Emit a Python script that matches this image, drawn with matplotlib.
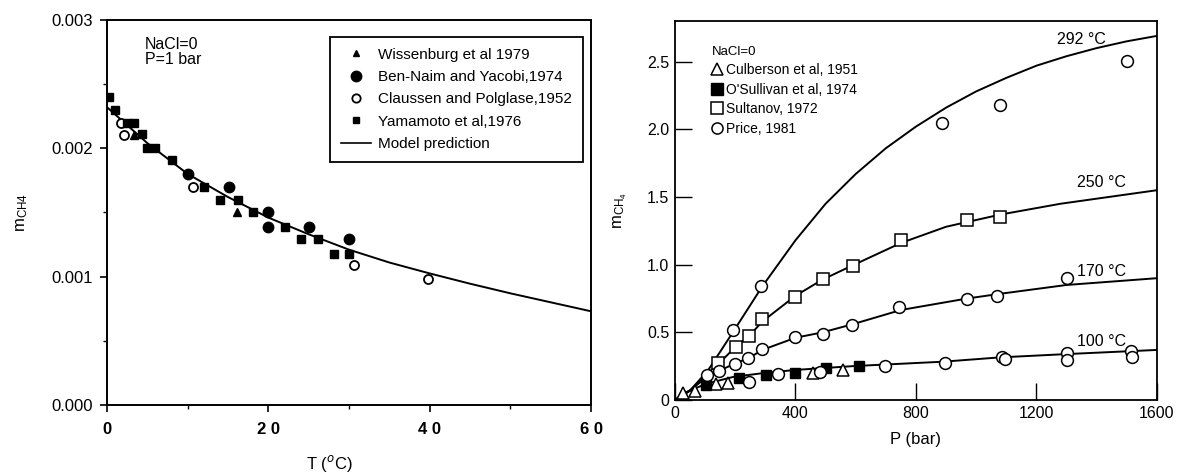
import matplotlib
matplotlib.use("Agg")
import matplotlib.pyplot as plt
from matplotlib.lines import Line2D
from matplotlib.ticker import FormatStrFormatter, MultipleLocator

plt.rcParams['font.family'] = ['Liberation Sans', 'DejaVu Sans']

# ---- left panel data: methane solubility at P = 1 bar ----
wiss_t = [3.3, 16.1]
wiss_m = [0.00210, 0.00150]
bennaim_t = [10.0, 15.1, 20.0, 19.9, 25.0, 30.0]
bennaim_m = [0.00180, 0.00170, 0.00150, 0.00139, 0.00139, 0.00129]
claussen_t = [1.7, 2.1, 10.7, 30.6, 39.8]
claussen_m = [0.00220, 0.00210, 0.00170, 0.00109, 0.00098]
yama_t = [0.2, 1.0, 2.5, 3.3, 4.3, 5.0, 6.0, 8.0, 12.0, 14.0, 16.2, 18.1, 22.1, 24.1, 26.1, 28.1, 30.0]
yama_m = [0.00240, 0.00230, 0.00220, 0.00220, 0.00211, 0.00200, 0.00200, 0.00191, 0.00170,
          0.00160, 0.00160, 0.00150, 0.00139, 0.00129, 0.00129, 0.00118, 0.00118]
model_t = [0, 5, 10, 15, 20, 25, 30, 35, 40, 45, 50, 55, 60]
model_m = [0.00232, 0.00204, 0.00180, 0.00162, 0.00146, 0.00133, 0.00121, 0.00111,
           0.001025, 0.000945, 0.00087, 0.00080, 0.00073]
left_xticks = [0, 20, 40, 60]
left_xlabels = ["0", "2 0", "4 0", "6 0"]
left_yticks = [0.000, 0.001, 0.002, 0.003]

# ---- right panel data: methane solubility vs pressure ----
p292 = [0, 50, 110, 192, 290, 400, 500, 600, 700, 800, 900, 1000, 1100, 1200, 1300, 1400, 1500, 1600]
m292 = [0, 0.07, 0.22, 0.50, 0.84, 1.18, 1.45, 1.67, 1.86, 2.02, 2.16, 2.28, 2.38, 2.47, 2.54, 2.60,
        2.65, 2.69]
p250 = [0, 50, 110, 150, 200, 245, 290, 400, 490, 595, 750, 900, 1080, 1280, 1600]
m250 = [0, 0.07, 0.20, 0.28, 0.39, 0.47, 0.58, 0.77, 0.89, 1.00, 1.16, 1.28, 1.37, 1.45, 1.55]
p170 = [0, 50, 105, 150, 200, 245, 290, 400, 490, 590, 750, 970, 1080, 1300, 1600]
m170 = [0, 0.07, 0.17, 0.22, 0.27, 0.31, 0.37, 0.46, 0.50, 0.56, 0.665, 0.75, 0.785, 0.85, 0.90]
p100 = [0, 28, 104, 192, 286, 398, 595, 889, 1079, 1306, 1600]
m100 = [0, 0.05, 0.12, 0.17, 0.197, 0.222, 0.251, 0.283, 0.315, 0.34, 0.37]

culb_p = [25, 66, 136, 177, 457, 557]
culb_m = [0.049, 0.069, 0.118, 0.128, 0.197, 0.222]
osul_p = [103, 213, 302, 398, 503, 612]
osul_m = [0.111, 0.160, 0.185, 0.200, 0.234, 0.251]
sult_p = [144, 202, 247, 288, 398, 492, 592, 749, 969, 1079]
sult_m = [0.276, 0.394, 0.473, 0.596, 0.758, 0.891, 0.990, 1.180, 1.330, 1.355]
price_p = [192, 286, 886, 1079, 1499,
           105, 147, 199, 243, 288, 398, 490, 587, 745, 969, 1070, 1300,
           247, 343, 481, 697, 896, 1085, 1097, 1300, 1300, 1514, 1518]
price_m = [0.517, 0.842, 2.05, 2.18, 2.505,
           0.185, 0.216, 0.266, 0.308, 0.374, 0.468, 0.487, 0.554, 0.685, 0.744, 0.768, 0.899,
           0.130, 0.192, 0.209, 0.251, 0.271, 0.320, 0.300, 0.345, 0.296, 0.365, 0.320]
curve_labels = ["292 °C", "250 °C", "170 °C", "100 °C"]
right_xticks = [0, 400, 800, 1200, 1600]
right_yticks = [0, 0.5, 1.0, 1.5, 2.0, 2.5]
right_ylabels = ["0", "0.5", "1.0", "1.5", "2.0", "2.5"]

fig = plt.figure(figsize=(11.79, 4.72), dpi=100)
ax1 = fig.add_axes([0.0908, 0.142, 0.4105, 0.8157])
ax2 = fig.add_axes([0.5725, 0.1525, 0.4088, 0.803])

# Left panel
ax1.plot(model_t, model_m, color='black', lw=1.4, label='Model prediction', zorder=2)
ax1.plot(wiss_t, wiss_m, '^', color='black', ms=5.5, ls='none', zorder=3)
ax1.plot(bennaim_t, bennaim_m, 'o', color='black', ms=7.5, ls='none', zorder=3)
ax1.plot(claussen_t, claussen_m, 'o', mfc='white', mec='black', mew=1.3, ms=6.5, ls='none', zorder=3)
ax1.plot(yama_t, yama_m, 's', color='black', ms=5.5, ls='none', zorder=3)

ax1.set_xlim(0, 60)
ax1.set_ylim(0, 0.003)
ax1.set_xticks(left_xticks)
ax1.set_xticklabels(left_xlabels, fontweight='bold', fontsize=12)
ax1.set_yticks(left_yticks)
ax1.yaxis.set_major_formatter(FormatStrFormatter('%.3f'))
ax1.xaxis.set_minor_locator(MultipleLocator(10))
ax1.yaxis.set_minor_locator(MultipleLocator(0.0005))
ax1.tick_params(which='major', direction='out', length=5, width=1.2, labelsize=12)
ax1.tick_params(axis='x', which='major', pad=7)
ax1.tick_params(axis='y', which='major', pad=5)
ax1.tick_params(which='minor', direction='out', length=3, width=1)
for s in ax1.spines.values():
    s.set_linewidth(1.4)

ax1.set_ylabel(r'$\mathregular{m_{CH4}}$', fontsize=12)
ax1.yaxis.set_label_coords(-0.16, 0.5)
ax1.set_xlabel(r'T ($^{o}$C)', fontsize=12)
ax1.xaxis.set_label_coords(0.46, -0.125)

ax1.text(0.0785, 0.956, 'NaCl=0\nP=1 bar', transform=ax1.transAxes, va='top', ha='left',
         fontsize=11.5, linespacing=1.0)

left_handles = [
    Line2D([], [], marker='^', color='black', ls='none', ms=5),
    Line2D([], [], marker='o', color='black', ls='none', ms=7.5),
    Line2D([], [], marker='o', mfc='white', mec='black', mew=1.3, ls='none', ms=6),
    Line2D([], [], marker='s', color='black', ls='none', ms=4.5),
    Line2D([], [], color='black', lw=1.2),
]
left_names = ['Wissenburg et al 1979', 'Ben-Naim and Yacobi,1974', 'Claussen and Polglase,1952',
              'Yamamoto et al,1976', 'Model prediction']
leg1 = ax1.legend(left_handles, left_names, loc='upper right', bbox_to_anchor=(0.983, 0.956),
                  fontsize=11, fancybox=False, edgecolor='black', framealpha=1,
                  handlelength=2.0, handletextpad=0.45, labelspacing=0.55, borderpad=0.7,
                  borderaxespad=0)
leg1.get_frame().set_linewidth(1.3)

# Right panel
for p, m in [(p292, m292), (p250, m250), (p170, m170), (p100, m100)]:
    ax2.plot(p, m, color='black', lw=1.4, zorder=2)
ax2.plot(culb_p, culb_m, '^', mfc='white', mec='black', mew=1.1, ms=8, ls='none', zorder=3)
ax2.plot(osul_p, osul_m, 's', color='black', ms=7.5, ls='none', zorder=3)
ax2.plot(sult_p, sult_m, 's', mfc='white', mec='black', mew=1.1, ms=8, ls='none', zorder=3)
ax2.plot(price_p, price_m, 'o', mfc='white', mec='black', mew=1.1, ms=8.5, ls='none', zorder=3)

# curve temperature labels
label_pos = [(1350, 2.66), (1416, 1.606), (1416, 0.948), (1416, 0.431)]
for txt, (x, y) in zip(curve_labels, label_pos):
    ax2.text(x, y, txt, ha='center', va='center', fontsize=11.5)

ax2.set_xlim(0, 1600)
ax2.set_ylim(0, 2.8)
ax2.set_xticks(right_xticks)
ax2.set_yticks(right_yticks)
ax2.set_yticklabels(right_ylabels)
ax2.tick_params(which='major', direction='in', length=12, width=1, labelsize=11.5, pad=4)
for s in ax2.spines.values():
    s.set_linewidth(1.3)
ax2.set_ylabel(r'$\mathregular{m_{CH_4}}$', fontsize=12)
ax2.yaxis.set_label_coords(-0.095, 0.5)
ax2.set_xlabel('P (bar)', fontsize=12)
ax2.xaxis.set_label_coords(0.5, -0.085)

right_handles = [
    Line2D([], [], marker='^', mfc='white', mec='black', mew=1.1, ls='none', ms=8),
    Line2D([], [], marker='s', color='black', ls='none', ms=8),
    Line2D([], [], marker='s', mfc='white', mec='black', mew=1.1, ls='none', ms=8),
    Line2D([], [], marker='o', mfc='white', mec='black', mew=1.1, ls='none', ms=8),
]
right_names = ['Culberson et al, 1951', "O'Sullivan et al, 1974", 'Sultanov, 1972', 'Price, 1981']
leg2 = ax2.legend(right_handles, right_names, title='NaCl=0', loc='upper left',
                  bbox_to_anchor=(0.065, 0.95), frameon=False, fontsize=10, title_fontsize=9.5,
                  handlelength=0.8, handletextpad=0.2, labelspacing=0.4, borderaxespad=0,
                  alignment='left')

fig.savefig('out.png', dpi=100)
